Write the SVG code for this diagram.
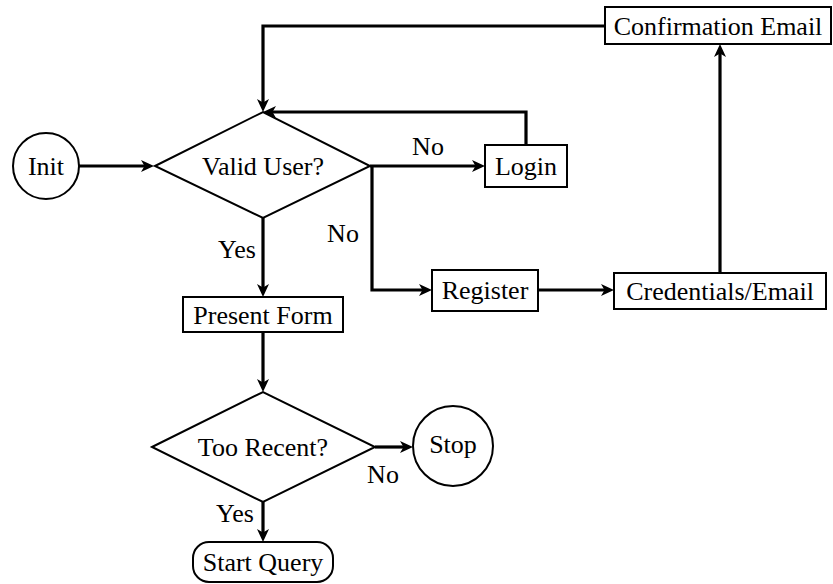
<svg xmlns="http://www.w3.org/2000/svg" width="833" height="584" viewBox="0 0 833 584">
  <style>
    .shape { fill: #fff; stroke: #000; stroke-width: 2; }
    .edge { fill: none; stroke: #000; stroke-width: 3.2; }
  </style>
  <defs>
    <marker id="arrow" markerUnits="userSpaceOnUse" viewBox="-8 -8 16 16" markerWidth="16" markerHeight="16" refX="0" refY="0" orient="auto">
      <path d="M6,0 L-7,-6 L-3.5,0 L-7,6 Z" fill="#000"/>
    </marker>
  </defs>

  <!-- connectors -->
  <g id="connectors">
    <path class="edge" marker-end="url(#arrow)" d="M79,166 H148"/>
    <path class="edge" marker-end="url(#arrow)" d="M605,26 H263 V106"/>
    <path class="edge" marker-end="url(#arrow)" d="M526,145 V112 H269"/>
    <path class="edge" marker-end="url(#arrow)" d="M370,166 H479"/>
    <path class="edge" marker-end="url(#arrow)" d="M372,166 V290 H426"/>
    <path class="edge" marker-end="url(#arrow)" d="M538,290 H608"/>
    <path class="edge" marker-end="url(#arrow)" d="M720,273 V50"/>
    <path class="edge" marker-end="url(#arrow)" d="M263,218 V291"/>
    <path class="edge" marker-end="url(#arrow)" d="M263,332 V386"/>
    <path class="edge" marker-end="url(#arrow)" d="M375,447 H407"/>
    <path class="edge" marker-end="url(#arrow)" d="M263,502 V536"/>
  </g>

  <g font-family="Liberation Serif, Times New Roman, serif" font-size="26" fill="#000" text-anchor="middle">
    <!-- edge labels -->
    <g id="edge-labels">
      <text x="428" y="155">No</text>
      <text x="343" y="242">No</text>
      <text x="237" y="258">Yes</text>
      <text x="383" y="483">No</text>
      <text x="235" y="522">Yes</text>
    </g>

    <g id="init">
      <circle class="shape" cx="46" cy="166" r="33"/>
      <text x="46" y="175">Init</text>
    </g>

    <g id="valid-user">
      <polygon class="shape" points="155,166 263,112 370,166 263,218"/>
      <text x="263" y="175">Valid User?</text>
    </g>

    <g id="login">
      <rect class="shape" x="485" y="145" width="82" height="42"/>
      <text x="526" y="175">Login</text>
    </g>

    <g id="confirmation-email">
      <rect class="shape" x="605" y="7" width="226" height="37"/>
      <text x="718" y="35">Confirmation Email</text>
    </g>

    <g id="register">
      <rect class="shape" x="432" y="270" width="106" height="41"/>
      <text x="485" y="299">Register</text>
    </g>

    <g id="credentials-email">
      <rect class="shape" x="614" y="273" width="212" height="36"/>
      <text x="720" y="300">Credentials/Email</text>
    </g>

    <g id="present-form">
      <rect class="shape" x="183" y="297" width="160" height="35"/>
      <text x="263" y="324">Present Form</text>
    </g>

    <g id="too-recent">
      <polygon class="shape" points="152,447 263,392 375,447 263,502"/>
      <text x="263" y="456">Too Recent?</text>
    </g>

    <g id="stop">
      <circle class="shape" cx="453" cy="446" r="40"/>
      <text x="453" y="453">Stop</text>
    </g>

    <g id="start-query">
      <rect class="shape" x="193" y="542" width="140" height="40" rx="16" ry="16"/>
      <text x="263" y="571">Start Query</text>
    </g>
  </g>
</svg>
